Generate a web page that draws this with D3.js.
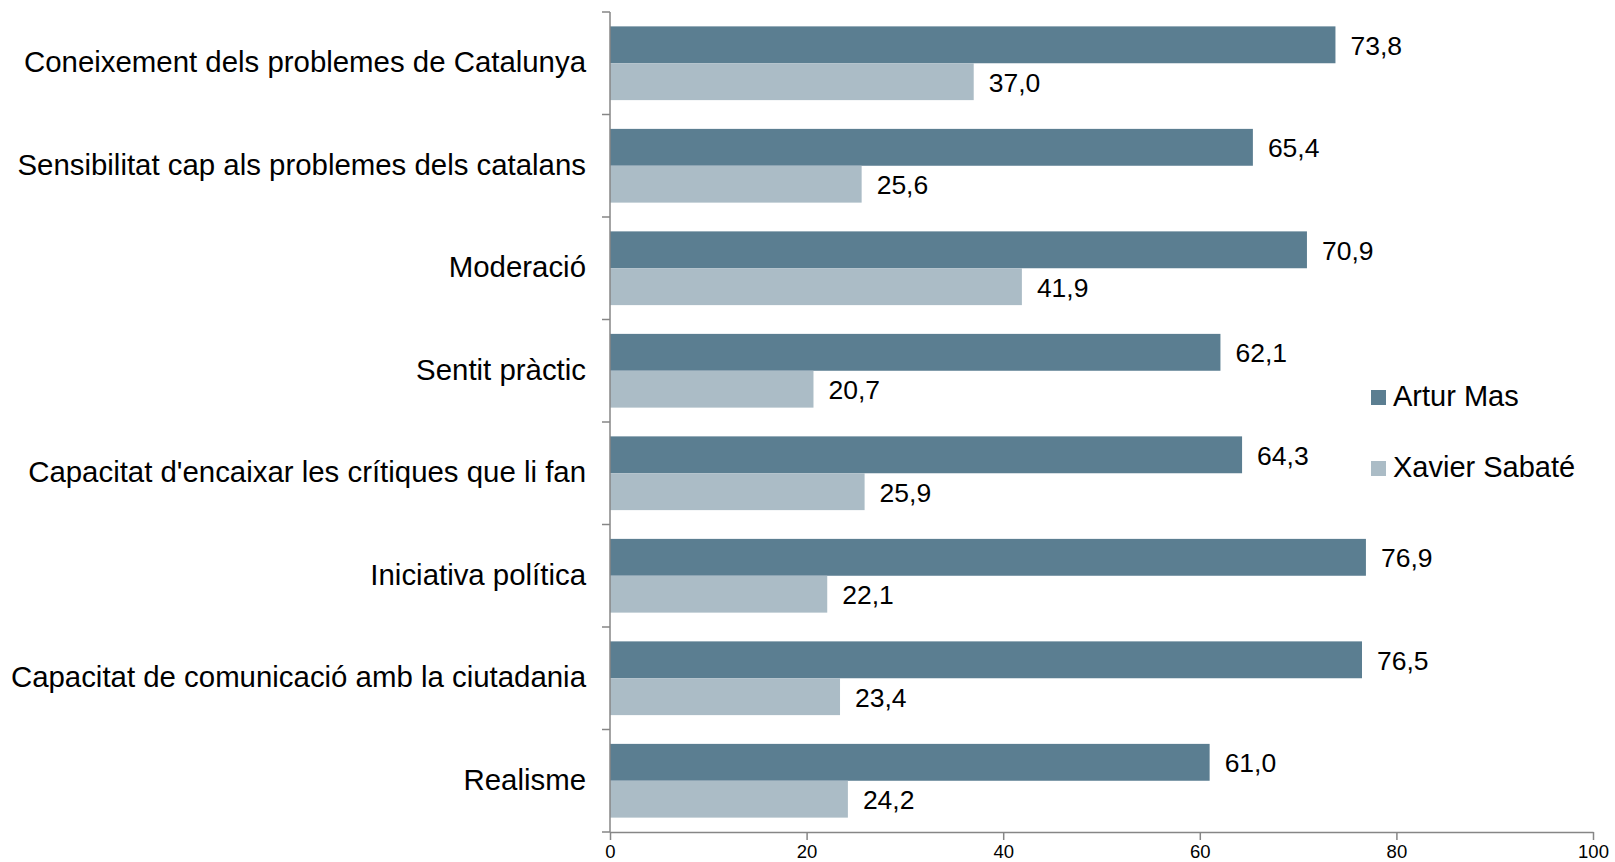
<!DOCTYPE html>
<html>
<head>
<meta charset="utf-8">
<script src="https://cdn.jsdelivr.net/npm/d3@7"></script>
<style>
  body { margin: 0; background: #fff; }
  text { font-family: "Liberation Sans", Arial, sans-serif; fill: #000; }
</style>
</head>
<body>
<div id="chart"></div>
<script>
var categories = [
    "Coneixement dels problemes de Catalunya",
    "Sensibilitat cap als problemes dels catalans",
    "Moderació",
    "Sentit pràctic",
    "Capacitat d'encaixar les crítiques que li fan",
    "Iniciativa política",
    "Capacitat de comunicació amb la ciutadania",
    "Realisme"
];
var seriesNames = ["Artur Mas", "Xavier Sabaté"];
var arturMas = [73.8, 65.4, 70.9, 62.1, 64.3, 76.9, 76.5, 61.0];
var xavierSabate = [37.0, 25.6, 41.9, 20.7, 25.9, 22.1, 23.4, 24.2];
var xTicks = [0, 20, 40, 60, 80, 100];

var colors = ["#5b7e91", "#abbcc6"];
var width = 1615, height = 862;
var plotLeft = 610, plotRight = 1593, plotTop = 12, plotBottom = 832;

var svg = d3.select("#chart").append("svg")
    .attr("width", width)
    .attr("height", height);

var x = d3.scaleLinear().domain([0, 100]).range([plotLeft, plotRight]);
var y = d3.scaleBand().domain(categories).range([plotTop, plotBottom]);
var inner = d3.scaleBand().domain(seriesNames)
    .range([0, y.bandwidth()]).paddingOuter(0.39);

var rows = categories.map(function(c, i) {
    return {cat: c, vals: [arturMas[i], xavierSabate[i]]};
});

var group = svg.selectAll(".row")
    .data(rows)
    .enter().append("g")
    .attr("class", "row")
    .attr("transform", d => `translate(0,${y(d.cat)})`);

var bars = group.selectAll(".bar")
    .data(d => d.vals.map((v, j) => ({name: seriesNames[j], v: v, j: j})))
    .enter();

bars.append("rect")
    .attr("x", x(0))
    .attr("y", d => inner(d.name))
    .attr("width", d => x(d.v) - x(0))
    .attr("height", inner.bandwidth())
    .attr("fill", d => colors[d.j]);

bars.append("text")
    .attr("x", d => x(d.v) + 15)
    .attr("y", d => inner(d.name) + inner.bandwidth() / 2 + 3)
    .attr("dominant-baseline", "middle")
    .style("font-size", "26.5px")
    .text(d => d3.format(".1f")(d.v).replace(".", ","));

// category labels
group.append("text")
    .attr("x", plotLeft - 24)
    .attr("y", y.bandwidth() / 2 + 1)
    .attr("text-anchor", "end")
    .attr("dominant-baseline", "middle")
    .style("font-size", "29.4px")
    .text(d => d.cat);

// vertical axis
var axisColor = "#868686";
svg.append("line")
    .attr("x1", plotLeft).attr("x2", plotLeft)
    .attr("y1", plotTop).attr("y2", plotBottom)
    .attr("stroke", axisColor).attr("stroke-width", 1.5);

var bounds = categories.map(c => y(c)).concat([y.range()[1]]);
svg.selectAll(".ytick")
    .data(bounds)
    .enter().append("line")
    .attr("x1", plotLeft - 8).attr("x2", plotLeft)
    .attr("y1", d => d).attr("y2", d => d)
    .attr("stroke", axisColor).attr("stroke-width", 1.5);

// horizontal axis
var xAxis = svg.append("g")
    .attr("transform", `translate(0,${plotBottom})`)
    .call(d3.axisBottom(x).tickValues(xTicks).tickSize(8).tickSizeOuter(0).tickPadding(5));
xAxis.select(".domain").attr("stroke", axisColor).attr("stroke-width", 1.5);
xAxis.selectAll(".tick line").attr("stroke", axisColor).attr("stroke-width", 1.5);
xAxis.selectAll(".tick text")
    .style("font-size", "18.5px")
    .style("font-family", "'Liberation Sans', Arial, sans-serif")
    .attr("fill", "#000");

// legend
var legend = svg.selectAll(".legend")
    .data(seriesNames)
    .enter().append("g")
    .attr("class", "legend")
    .attr("transform", (d, i) => `translate(1371,${390 + i * 71})`);

legend.append("rect")
    .attr("width", 15).attr("height", 15)
    .attr("fill", (d, i) => colors[i]);

legend.append("text")
    .attr("x", 22)
    .attr("y", 8.5)
    .attr("dominant-baseline", "middle")
    .style("font-size", "29px")
    .text(d => d);
</script>
</body>
</html>
